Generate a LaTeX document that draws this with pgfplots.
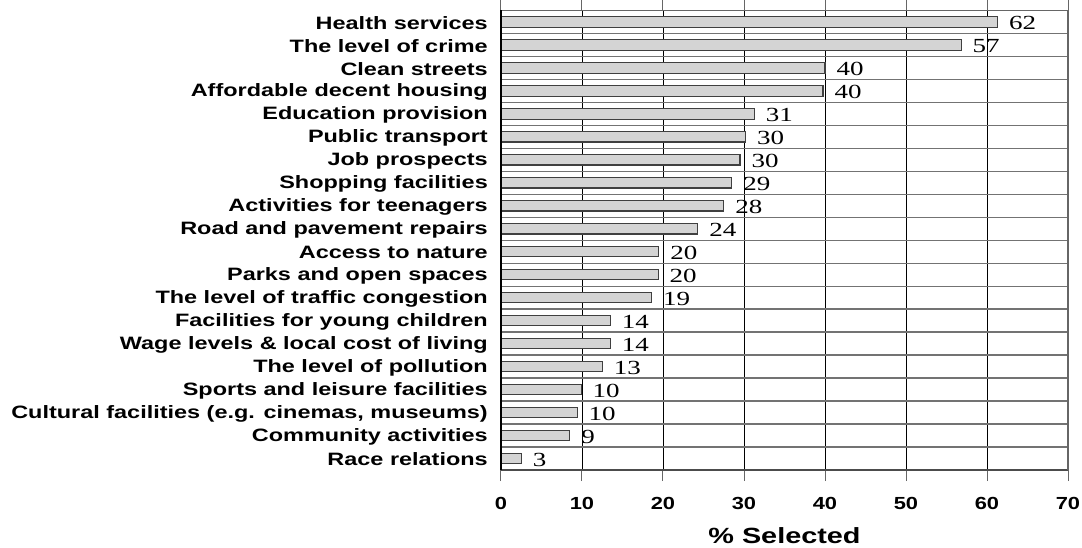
\documentclass[border=0pt]{standalone}
\usepackage{pgfplots}
\pgfplotsset{compat=1.18}
\usepackage{pgfplotstable}
\usepackage{fontspec}
\newfontfamily\lsans[FakeStretch=1.31]{Liberation Sans}
\newfontfamily\lsanst[FakeStretch=1.25]{Liberation Sans}
\newfontfamily\lserif[FakeStretch=1.35]{Liberation Serif}

\pgfplotstableread{
y v lab
20 61.3 62
19 56.8 57
18 40.0 40
17 39.75 40
16 31.27 31
15 30.2 30
14 29.5 30
13 28.5 29
12 27.5 28
11 24.3 24
10 19.5 20
9 19.4 20
8 18.6 19
7 13.5 14
6 13.5 14
5 12.5 13
4 9.9 10
3 9.4 10
2 8.5 9
1 2.5 3
}\data

\begin{document}
\begin{tikzpicture}
\path[use as bounding box] (0,0) rectangle (1082pt,547pt);
\begin{axis}[
  at={(501pt,77pt)}, anchor=south west,
  scale only axis, width=567pt, height=459.6pt,
  xbar, bar width=10.5pt,
  xmin=0, xmax=70, ymin=0.5, ymax=20.5,
  xtick={0,10,...,70},
  ytick={1,...,20},
  yticklabels={Race relations, Community activities, {Cultural facilities (e.g. cinemas, museums)}, Sports and leisure facilities, The level of pollution, Wage levels \& local cost of living, Facilities for young children, The level of traffic congestion, Parks and open spaces, Access to nature, Road and pavement repairs, Activities for teenagers, Shopping facilities, Job prospects, Public transport, Education provision, Affordable decent housing, Clean streets, The level of crime, Health services},
  minor ytick={1.5,2.5,...,19.5},
  xmajorgrids, yminorgrids,
  major grid style={black, line width=0.9pt},
  minor grid style={black!55, line width=1.3pt},
  axis line style={black!60, line width=1.3pt},
  tick align=outside, major tick length=11pt, minor tick length=0pt,
  major y tick style={draw=none},
  major x tick style={black!60, line width=1pt},
  /pgf/number format/assume math mode=true,
  xticklabel style={font=\lsanst\bfseries\fontsize{17.5}{19}\selectfont, inner sep=0pt, anchor=center, yshift=-22pt},
  yticklabel style={font=\lsans\bfseries\fontsize{17.9}{20}\selectfont, inner sep=0pt, anchor=east, xshift=-2pt, yshift=-1pt},
  xlabel={\% Selected},
  xlabel style={font=\lsans\bfseries\fontsize{22}{24}\selectfont, at={(axis description cs:0.5,0)}, anchor=center, yshift=-66pt},
  nodes near coords, point meta=explicit symbolic,
  nodes near coords style={font=\lserif\fontsize{20}{21}\selectfont, anchor=west, inner sep=0pt, xshift=11pt, yshift=-1pt, text=black},
  clip=false,
]
\addplot[fill=black!17, draw=black!75, line width=1.1pt] table[x=v, y=y, meta=lab] {\data};
\draw[black!70, line width=2.2pt] (rel axis cs:0,0) -- (rel axis cs:1,0);
\draw[black, line width=1.4pt] (rel axis cs:0,0) -- (rel axis cs:0,1);
\draw[black!60, line width=2.6pt] (rel axis cs:1,0) -- (rel axis cs:1,1);
\end{axis}
\end{tikzpicture}
\end{document}
